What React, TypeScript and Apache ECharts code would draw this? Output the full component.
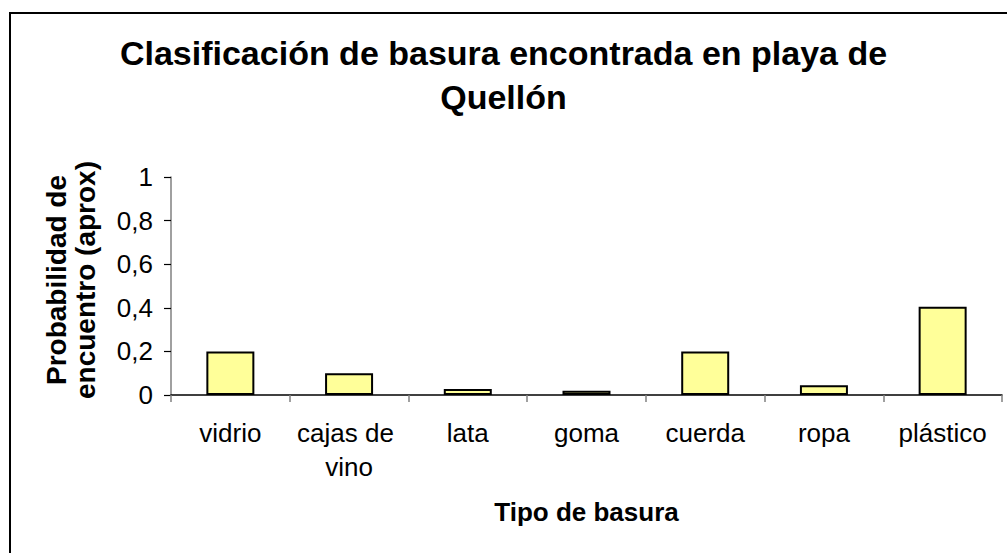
import React, { useEffect, useRef } from "react";
import * as echarts from "echarts";

const titleText = "Clasificación de basura encontrada en playa de\nQuellón";
const categories = ["vidrio", "cajas de vino", "lata", "goma", "cuerda", "ropa", "plástico"];
const values = [0.2, 0.1, 0.028, 0.02, 0.2, 0.045, 0.405];
const yAxisName = "Probabilidad de\nencuentro (aprox)";
const xAxisName = "Tipo de basura";

const FONT = "'Liberation Sans', Arial, sans-serif";

export default function App() {
  const ref = useRef<HTMLDivElement>(null);
  useEffect(() => {
    if (!ref.current) return;
    const chart = echarts.init(ref.current, null, { renderer: "svg" });
    chart.setOption({
      animation: false,
      backgroundColor: "#ffffff",
      title: {
        text: titleText,
        left: "center",
        top: 26,
        textStyle: {
          fontFamily: FONT,
          fontSize: 34,
          fontWeight: "bold",
          color: "#000",
          lineHeight: 44,
        },
      },
      graphic: [
        {
          type: "rect",
          shape: { x: 10, y: 13, width: 1010, height: 560 },
          style: { fill: "none", stroke: "#000", lineWidth: 2 },
          silent: true,
        },
      ],
      grid: { left: 171, right: 5, top: 177, bottom: 158 },
      xAxis: {
        type: "category",
        data: categories,
        name: xAxisName,
        nameLocation: "middle",
        nameGap: 104,
        nameTextStyle: { fontFamily: FONT, fontSize: 26, fontWeight: "bold", color: "#000" },
        axisLine: { lineStyle: { color: "#000", width: 1.5 } },
        axisTick: { show: true, length: 7, lineStyle: { color: "#808080", width: 1.5 } },
        axisLabel: {
          fontFamily: FONT,
          fontSize: 26,
          color: "#000",
          lineHeight: 34,
          margin: 21,
          width: 112,
          overflow: "break",
          interval: 0,
        },
      },
      yAxis: {
        type: "value",
        min: 0,
        max: 1,
        interval: 0.2,
        name: yAxisName,
        nameLocation: "middle",
        nameRotate: 90,
        nameGap: 71,
        nameTextStyle: {
          fontFamily: FONT,
          fontSize: 28,
          fontWeight: "bold",
          color: "#000",
          lineHeight: 29,
          padding: [0, 0, 0, 12],
        },
        axisLine: { show: true, lineStyle: { color: "#808080", width: 1.5 } },
        axisTick: { show: true, length: 7, lineStyle: { color: "#000", width: 1.2 } },
        splitLine: { show: false },
        axisLabel: {
          fontFamily: FONT,
          fontSize: 26,
          color: "#000",
          margin: 18,
          formatter: (v: number) => String(Math.round(v * 10) / 10).replace(".", ","),
        },
      },
      series: [
        {
          type: "bar",
          data: values,
          barWidth: 48,
          itemStyle: { color: "#FFFF99", borderColor: "#000", borderWidth: 2 },
        },
      ],
    });
    return () => chart.dispose();
  }, []);
  return (
    <div
      ref={ref}
      style={{ position: "fixed", left: 0, top: 0, width: 1007, height: 553 }}
    />
  );
}
